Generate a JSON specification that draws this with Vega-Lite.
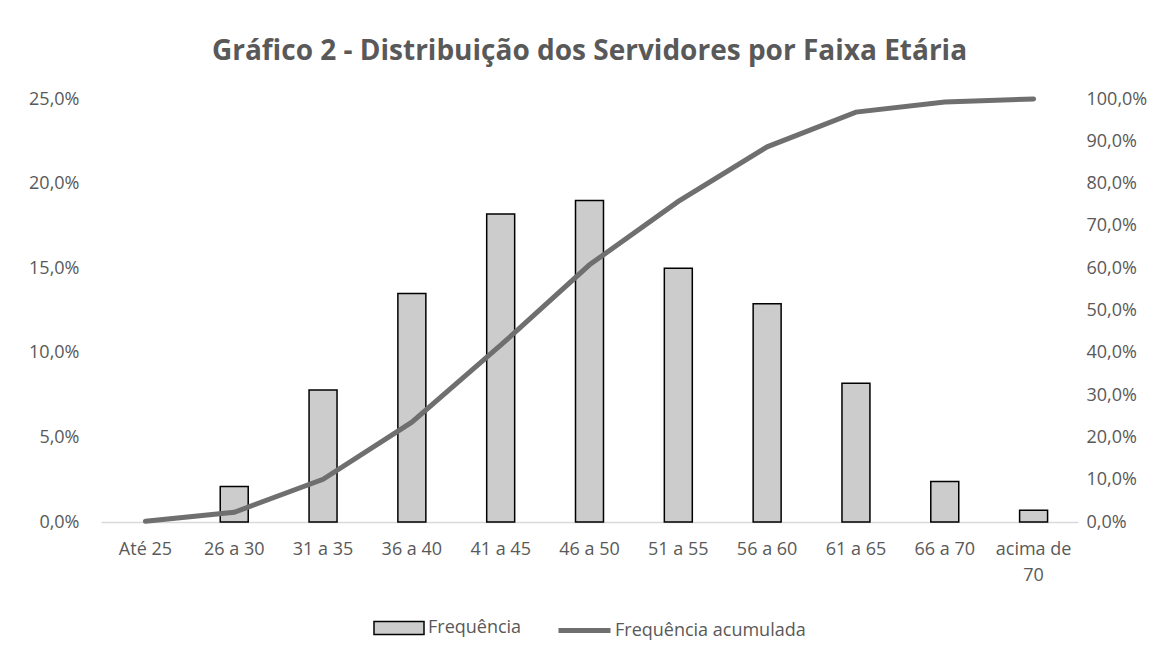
{
  "$schema": "https://vega.github.io/schema/vega-lite/v6.json",
  "width": 977,
  "height": 423,
  "padding": {"left": 28, "top": 38, "right": 10, "bottom": 10},
  "background": "white",
  "config": {
    "locale": {"number": {"decimal": ",", "thousands": ".", "grouping": [3], "currency": ["R$", ""]}},
    "font": "Open Sans",
    "view": {"stroke": null},
    "legend": {"layout": {"bottom": {"anchor": "middle", "direction": "horizontal", "margin": 34}}}
  },
  "title": {
    "text": "Gráfico 2 - Distribuição dos Servidores por Faixa Etária",
    "fontSize": 28,
    "fontWeight": "bold",
    "color": "#595959",
    "font": "Open Sans",
    "offset": 23,
    "anchor": "middle"
  },
  "data": {
    "values": [
      {"faixa": "Até 25", "freq": 0, "acum": 0.002},
      {"faixa": "26 a 30", "freq": 0.021, "acum": 0.023},
      {"faixa": "31 a 35", "freq": 0.078, "acum": 0.101},
      {"faixa": "36 a 40", "freq": 0.135, "acum": 0.236},
      {"faixa": "41 a 45", "freq": 0.182, "acum": 0.418},
      {"faixa": "46 a 50", "freq": 0.190, "acum": 0.608},
      {"faixa": "51 a 55", "freq": 0.150, "acum": 0.758},
      {"faixa": "56 a 60", "freq": 0.129, "acum": 0.887},
      {"faixa": "61 a 65", "freq": 0.082, "acum": 0.969},
      {"faixa": "66 a 70", "freq": 0.024, "acum": 0.993},
      {"faixa": "acima de 70", "freq": 0.007, "acum": 1.0}
    ]
  },
  "encoding": {
    "x": {
      "field": "faixa",
      "type": "nominal",
      "sort": null,
      "scale": {"paddingInner": 0.685, "paddingOuter": 0.3425},
      "axis": {
        "title": null,
        "labelAngle": 0,
        "labelFontSize": 18,
        "labelColor": "#595959",
        "labelPadding": 18,
        "ticks": false,
        "domainColor": "#d9d9d9",
        "domainWidth": 1.5,
        "labelExpr": "datum.value == 'acima de 70' ? ['acima de', '70'] : datum.value",
        "labelLineHeight": 26
      }
    }
  },
  "layer": [
    {
      "mark": {"type": "bar", "stroke": "black", "strokeWidth": 1.5},
      "encoding": {
        "y": {
          "field": "freq",
          "type": "quantitative",
          "scale": {"domain": [0, 0.25]},
          "axis": {
            "title": null,
            "format": ".1%",
            "values": [0, 0.05, 0.1, 0.15, 0.2, 0.25],
            "grid": false,
            "domain": false,
            "ticks": false,
            "labelFontSize": 18,
            "labelColor": "#595959",
            "labelPadding": 22
          }
        },
        "strokeOpacity": {"condition": {"test": "datum.freq == 0", "value": 0}, "value": 1},
        "fill": {
          "datum": "Frequência",
          "type": "nominal",
          "scale": {"range": ["#cccccc"]},
          "legend": {
            "title": null,
            "orient": "bottom",
            "offset": 18,
            "symbolType": "M-1,-0.26H1V0.26H-1Z",
            "symbolSize": 2500,
            "symbolStrokeColor": "black",
            "symbolStrokeWidth": 1.5,
            "labelFontSize": 18,
            "labelColor": "#595959",
            "labelOffset": 3,
            "labelLimit": 0
          }
        }
      }
    },
    {
      "mark": {"type": "line", "color": "#6f6f6f", "strokeWidth": 5, "strokeCap": "round"},
      "encoding": {
        "y": {
          "field": "acum",
          "type": "quantitative",
          "scale": {"domain": [0, 1]},
          "axis": {
            "title": null,
            "orient": "right",
            "format": ".1%",
            "values": [0, 0.1, 0.2, 0.3, 0.4, 0.5, 0.6, 0.7, 0.8, 0.9, 1.0],
            "grid": false,
            "domain": false,
            "ticks": false,
            "labelFontSize": 18,
            "labelColor": "#595959",
            "labelPadding": 8
          }
        },
        "stroke": {
          "datum": "Frequência acumulada",
          "type": "nominal",
          "scale": {"range": ["#6f6f6f"]},
          "legend": {
            "title": null,
            "orient": "bottom",
            "offset": 18,
            "symbolType": "stroke",
            "symbolSize": 2704,
            "symbolStrokeWidth": 5,
            "labelFontSize": 18,
            "labelColor": "#595959",
            "labelOffset": 2,
            "labelLimit": 0
          }
        }
      }
    }
  ],
  "resolve": {"scale": {"y": "independent", "fill": "independent", "stroke": "independent"}}
}
